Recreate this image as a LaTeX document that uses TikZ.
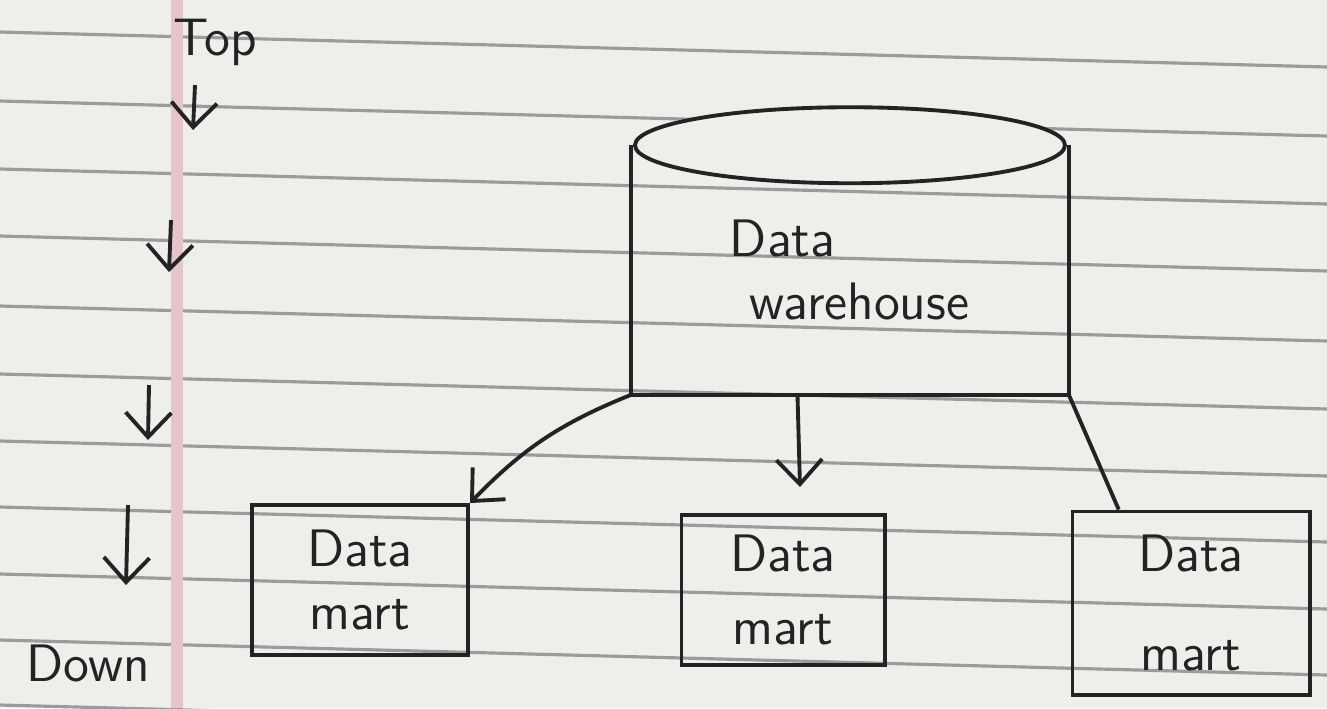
\documentclass[tikz,border=0pt]{standalone}
\usepackage{tikz}
\usetikzlibrary{calc}
\usetikzlibrary{arrows.meta}

\definecolor{paper}{RGB}{238,238,235}
\definecolor{ruling}{RGB}{155,155,155}
\definecolor{margin}{RGB}{230,196,204}
\definecolor{pen}{RGB}{35,35,35}

\tikzset{
  >={Straight Barb[length=7pt,width=13pt]},
  ink/.style={draw=pen, line width=1.1pt},
  hand/.style={text=pen, font=\sffamily\fontsize{15}{18}\selectfont},
  martbox/.style={ink, hand, rectangle, align=center, inner sep=0pt}
}

\begin{document}
\begin{tikzpicture}[x=0.01cm,y=-0.01cm]
\useasboundingbox (0,0) rectangle (1327,708);
% the notebook page
\fill[paper] (0,0) rectangle (1327,708);
\foreach \y in {32,101,169,236,306,374,441,507,574,640,705}
  \draw[ruling, line width=0.9pt] (0,\y) -- (1327,\y+35);
\draw[margin, line width=3.5pt] (177,0) -- (177,708);

% top-down side note
\node (top) at (215,42) [hand] {Top};
\node (down) at (88,663) [hand] {Down};
\coordinate (s1) at (195,85);  \coordinate (e1) at (193,130);
\coordinate (s2) at (171,220); \coordinate (e2) at (169,272);
\coordinate (s3) at (149,385); \coordinate (e3) at (148,440);
\coordinate (s4) at (128,505); \coordinate (e4) at (126,585);
\foreach \i in {1,...,4}
  \draw[ink,->] (s\i) -- (e\i);

% warehouse
\node (dw) at (850,270) [hand, minimum width=4.36cm, minimum height=2.48cm, text width=2.4cm] {Data\\[0pt]\hspace*{0.2cm}warehouse};
\draw[ink] (dw.north west) -- (dw.south west) -- (dw.south east) -- (dw.north east);
\draw[ink, fill=paper] (dw.north) ellipse (215 and 38);

% marts
\node (lm) at (360,580) [martbox, minimum width=2.16cm, minimum height=1.5cm] {Data\\[0pt]mart};
\node (mm) at (783,590) [martbox, minimum width=2.03cm, minimum height=1.5cm] {Data\\[3pt]mart};
\node (rm) at (1191,603) [martbox, minimum width=2.37cm, minimum height=1.83cm] {Data\\[10pt]mart};

\coordinate (mmIn) at (800,487);
\draw[ink,->] (dw.south west) to[bend right=12] (lm.north east);
\draw[ink,->] ($(dw.south west)!0.38!(dw.south east)$) -- (mmIn);
\draw[ink] (dw.south east) -- ($(rm.north west)!0.2!(rm.north east)$);
\end{tikzpicture}
\end{document}
